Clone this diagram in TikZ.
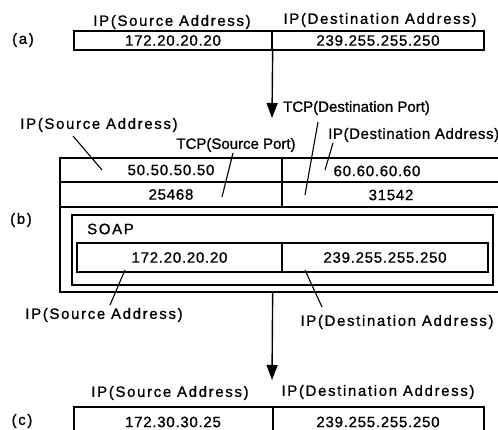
\documentclass[tikz,border=0pt]{standalone}
\usepackage{fontspec}
\setmainfont[FakeBold=1]{Liberation Sans}
\newfontfamily\ipfam[LetterSpace=11,FakeBold=1]{Liberation Sans}
\newfontfamily\ipnfam[LetterSpace=4,FakeBold=1]{Liberation Sans}
\newfontfamily\numfam[LetterSpace=5,FakeBold=1]{Liberation Sans}
\newfontfamily\tcpfam[FakeBold=1]{Liberation Sans}
\newcommand\ipf{\ipfam\fontsize{15}{16}\selectfont}
\newcommand\ipnf{\ipnfam\fontsize{15}{16}\selectfont}
\newcommand\numf{\numfam\fontsize{15}{16}\selectfont}
\newcommand\tcpf{\tcpfam\fontsize{15}{16}\selectfont}
\usetikzlibrary{arrows.meta}
\begin{document}
\begin{tikzpicture}[x=1pt,y=-1pt,
  cell/.style={draw, line width=1.3pt, inner sep=0pt, font=\numf},
  frame/.style={draw, line width=1.3pt, inner sep=0pt},
  lbl/.style={inner sep=0pt, font=\ipf},
  tlbl/.style={inner sep=0pt, font=\tcpf},
  lead/.style={line width=1.1pt},
  arr/.style={line width=1.4pt, -{Triangle[length=15pt,width=11pt]}}]
\clip (0,0) rectangle (498,430);
% (a)
\node[lbl] (tagA) at (23,40) {(a)};
\node[cell, minimum width=198pt, minimum height=19pt] (a1) at (173,40.5) {172.20.20.20};
\node[cell, minimum width=212pt, minimum height=19pt] (a2) at (378,40.5) {239.255.255.250};
\node[lbl] (aS) at (172,22) {IP(Source Address)};
\node[lbl] (aD) at (380,20) {IP(Destination Address)};
% (b)
\node[lbl] (tagB) at (21,220) {(b)};
\node[frame, minimum width=450pt, minimum height=134pt] (bout) at (285,225) {};
\node[cell, minimum width=222pt, minimum height=24pt] (b11) at (171,170) {50.50.50.50};
\node[cell, minimum width=228pt, minimum height=24pt] (b12) at (396,170) {};
\node[inner sep=0pt, font=\numf] (b12t) at (377,171) {60.60.60.60};
\node[cell, minimum width=222pt, minimum height=25pt] (b21) at (171,194.5) {25468};
\node[cell, minimum width=228pt, minimum height=25pt] (b22) at (396,194.5) {};
\node[inner sep=0pt, font=\numf] (b22t) at (391,195) {31542};
\node[frame, minimum width=421pt, minimum height=70pt] (soap) at (282.5,250) {};
\node[lbl, anchor=west] (soapt) at (87,229) {SOAP};
\node[cell, minimum width=205pt, minimum height=29pt] (s1) at (179.5,257.5) {172.20.20.20};
\node[cell, minimum width=206pt, minimum height=29pt] (s2) at (385,257.5) {239.255.255.250};
% labels of (b)
\node[lbl] (bS) at (99,125) {IP(Source Address)};
\node[tlbl] (bSP) at (236,145) {TCP(Source Port)};
\node[tlbl, anchor=west] (bDP) at (283,108) {TCP(Destination Port)};
\node[inner sep=0pt, font=\ipnf, anchor=west] (bD) at (328,135) {IP(Destination Address)};
\node[lbl] (bS2) at (104,315) {IP(Source Address)};
\node[lbl] (bD2) at (397,322) {IP(Destination Address)};
\coordinate (l1a) at (73,136); \coordinate (l1b) at (102,170);
\coordinate (l2a) at (233,153); \coordinate (l2b) at (222,197);
\coordinate (l3a) at (318,122); \coordinate (l3b) at (305,195);
\coordinate (l4a) at (333,143); \coordinate (l4b) at (325,170);
\coordinate (l5a) at (125,270); \coordinate (l5b) at (110,305);
\coordinate (l6a) at (305,270); \coordinate (l6b) at (322,307);
\draw[lead] (l1a) -- (l1b);
\draw[lead] (l2a) -- (l2b);
\draw[lead] (l3a) -- (l3b);
\draw[lead] (l4a) -- (l4b);
\draw[lead] (l5a) -- (l5b);
\draw[lead] (l6a) -- (l6b);
% (c)
\node[lbl] (tagC) at (22,421) {(c)};
\node[lbl] (cS) at (170,393) {IP(Source Address)};
\node[lbl] (cD) at (378,392) {IP(Destination Address)};
\node[cell, minimum width=199pt, minimum height=30pt] (c1) at (173.5,422) {};
\node[cell, minimum width=211pt, minimum height=30pt] (c2) at (378.5,422) {};
\node[inner sep=0pt, font=\numf] (c1t) at (173,422) {172.30.30.25};
\node[inner sep=0pt, font=\numf] (c2t) at (378,422) {239.255.255.250};
% arrows
\coordinate (t1) at (272,118);
\coordinate (t2) at (272,380);
\draw[arr] (a1.south east) -- (t1);
\draw[arr] (bout.south -| a1.south east) -- (t2);
\end{tikzpicture}
\end{document}
